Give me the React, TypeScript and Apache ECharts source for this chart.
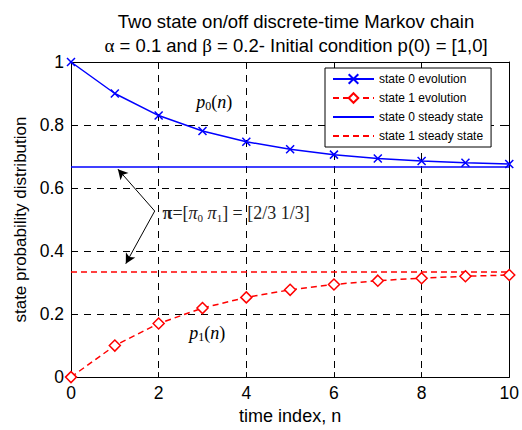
import React, { useEffect, useRef } from "react";
import * as echarts from "echarts";

const timeIndex = [0, 1, 2, 3, 4, 5, 6, 7, 8, 9, 10];
const state0Evolution = [1, 0.9, 0.83, 0.781, 0.747, 0.723, 0.706, 0.694, 0.686, 0.68, 0.676];
const state1Evolution = [0, 0.1, 0.17, 0.219, 0.253, 0.277, 0.294, 0.306, 0.314, 0.32, 0.324];
const steadyRange = [0, 10];
const state0Steady = 0.6667;
const state1Steady = 0.3333;
const seriesNames = ["state 0 evolution", "state 1 evolution", "state 0 steady state", "state 1 steady state"];
const titleLines = ["Two state on/off discrete-time Markov chain", "{g|α} = 0.1 and {g|β} = 0.2- Initial condition p(0) = [1,0]"];
const xTicks = { min: 0, max: 10, interval: 2 };
const yTicks = { min: 0, max: 1, interval: 0.2 };

const SANS = "'Liberation Sans', Arial, sans-serif";
const SERIF = "'Liberation Serif', 'Times New Roman', serif";

export default function App() {
  const ref = useRef<HTMLDivElement>(null);
  useEffect(() => {
    if (!ref.current) return;
    const chart = echarts.init(ref.current, undefined, { renderer: "svg" });
    const grid = { left: 71, right: 11, top: 62, bottom: 48 };
    const sub = { fontFamily: SERIF, fontSize: 12, lineHeight: 12, verticalAlign: "bottom", color: "#000" };
    const mathRich = {
      i: { fontFamily: SERIF, fontStyle: "italic", fontSize: 18, lineHeight: 21, color: "#000" },
      r: { fontFamily: SERIF, fontSize: 18, lineHeight: 21, color: "#000" },
      b: { fontFamily: SERIF, fontWeight: "bold", fontSize: 18, lineHeight: 21, color: "#000" },
      s: sub,
    };
    const piRich = {
      i: { fontFamily: SERIF, fontStyle: "italic", fontSize: 18, lineHeight: 21, color: "#222" },
      r: { fontFamily: SERIF, fontSize: 18, lineHeight: 21, color: "#222" },
      b: { fontFamily: SERIF, fontWeight: "bold", fontSize: 18, lineHeight: 21, color: "#222" },
      s: { ...sub, fontSize: 11, lineHeight: 11, color: "#222" },
    };
    const axisCommon = {
      type: "value",
      axisLine: { show: true, onZero: false, lineStyle: { color: "#000", width: 1 } },
      axisTick: { show: true, inside: true, length: 5, lineStyle: { color: "#000" } },
    };
    chart.setOption({
      animation: false,
      backgroundColor: "#fff",
      title: {
        text: titleLines.join("\n"),
        left: 291,
        top: 4,
        textAlign: "center",
        textStyle: {
          fontFamily: SANS,
          fontSize: 18.5,
          fontWeight: "normal",
          color: "#000",
          lineHeight: 24,
          rich: { g: { fontFamily: SERIF, fontSize: 19, color: "#000", lineHeight: 24 } },
        },
      },
      grid: { ...grid, show: false },
      legend: {
        orient: "vertical",
        left: 325,
        top: 68,
        data: seriesNames,
        itemWidth: 41,
        itemHeight: 12,
        itemGap: 5,
        padding: [4, 8, 4, 7],
        backgroundColor: "#fff",
        borderColor: "#000",
        borderWidth: 1,
        borderRadius: 0,
        textStyle: { fontFamily: SANS, fontSize: 12, color: "#000", lineHeight: 14 },
      },
      xAxis: [
        {
          ...axisCommon,
          position: "bottom",
          ...xTicks,
          name: "time index, n",
          nameLocation: "middle",
          nameGap: 27,
          nameTextStyle: { fontFamily: SANS, fontSize: 18, color: "#000" },
          axisLabel: { fontFamily: SANS, fontSize: 17.5, color: "#000", margin: 7 },
          splitLine: { show: true, lineStyle: { color: "#000", type: [7, 6], width: 1 } },
        },
        {
          ...axisCommon,
          position: "top",
          ...xTicks,
          axisLabel: { show: false },
          splitLine: { show: false },
        },
      ],
      yAxis: [
        {
          ...axisCommon,
          position: "left",
          ...yTicks,
          name: "state probability distribution",
          nameLocation: "middle",
          nameGap: 39,
          nameTextStyle: { fontFamily: SANS, fontSize: 17, color: "#000" },
          axisLabel: { fontFamily: SANS, fontSize: 17.5, color: "#000", margin: 7 },
          splitLine: { show: true, lineStyle: { color: "#000", type: [7, 6], width: 1 } },
        },
        {
          ...axisCommon,
          position: "right",
          ...yTicks,
          axisLabel: { show: false },
          splitLine: { show: false },
        },
      ],
      series: [
        {
          name: seriesNames[0],
          type: "line",
          data: timeIndex.map((n, i) => [n, state0Evolution[i]]),
          symbol: "path://M0,0L10,10M10,0L0,10",
          symbolSize: 8,
          lineStyle: { color: "#0000ff", width: 1.5 },
          itemStyle: { color: "#0000ff", borderColor: "#0000ff", borderWidth: 1.5 },
          z: 3,
          markPoint: {
            silent: true,
            symbol: "circle",
            symbolSize: 0,
            itemStyle: { color: "transparent" },
            data: [
              {
                coord: [3.27, 0.874],
                label: { show: true, position: "inside", formatter: "{i|p}{s|0}{r|(}{i|n}{r|)}", rich: mathRich },
              },
            ],
          },
        },
        {
          name: seriesNames[1],
          type: "line",
          data: timeIndex.map((n, i) => [n, state1Evolution[i]]),
          symbol: "diamond",
          symbolSize: 11,
          lineStyle: { color: "#ff0000", width: 1.5, type: [6, 4] },
          itemStyle: { color: "#fff", borderColor: "#ff0000", borderWidth: 1.5 },
          z: 3,
          markPoint: {
            silent: true,
            symbol: "circle",
            symbolSize: 0,
            itemStyle: { color: "transparent" },
            data: [
              {
                coord: [3.11, 0.14],
                label: { show: true, position: "inside", formatter: "{i|p}{s|1}{r|(}{i|n}{r|)}", rich: mathRich },
              },
              {
                coord: [2.09, 0.521],
                label: {
                  show: true,
                  position: "right",
                  distance: 0,
                  formatter: "{b|π}{r|=[}{i|π}{s|0}{r| }{i|π}{s|1}{r|] = [2/3 1/3]}",
                  rich: piRich,
                },
              },
            ],
          },
        },
        {
          name: seriesNames[2],
          type: "line",
          data: steadyRange.map((n) => [n, state0Steady]),
          symbol: "none",
          lineStyle: { color: "#0000ff", width: 1.5 },
          itemStyle: { color: "#0000ff", opacity: 0 },
          z: 2,
          markLine: {
            silent: true,
            animation: false,
            symbolSize: [8, 10],
            lineStyle: { color: "#000", width: 1, type: "solid", opacity: 1 },
            itemStyle: { opacity: 1 },
            label: { show: false },
            data: [
              [
                { coord: [1.91, 0.527], symbol: "none" },
                { coord: [1.07, 0.66], symbol: "arrow" },
              ],
              [
                { coord: [1.91, 0.527], symbol: "none" },
                { coord: [1.25, 0.36], symbol: "arrow" },
              ],
            ],
          },
        },
        {
          name: seriesNames[3],
          type: "line",
          data: steadyRange.map((n) => [n, state1Steady]),
          symbol: "none",
          lineStyle: { color: "#ff0000", width: 1.5, type: [6, 4] },
          itemStyle: { color: "#ff0000", opacity: 0 },
          z: 2,
        },
      ],
    });
    return () => chart.dispose();
  }, []);
  return <div ref={ref} style={{ position: "fixed", left: 0, top: 0, width: 522, height: 430 }} />;
}
